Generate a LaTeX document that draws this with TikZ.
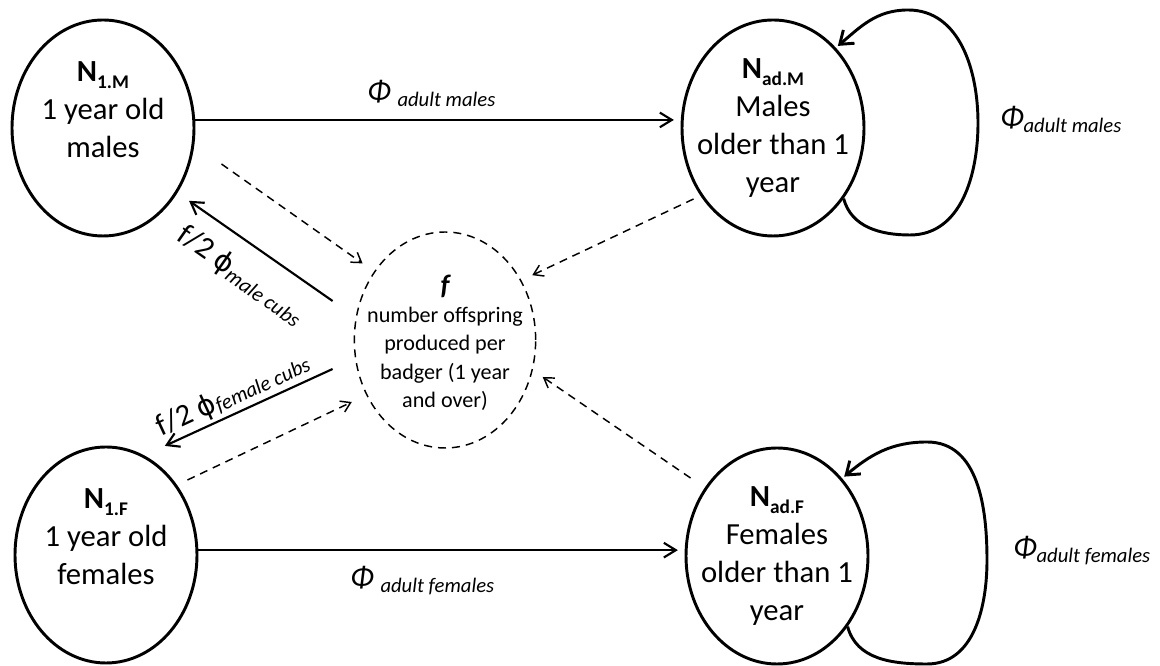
\documentclass[tikz,border=0pt]{standalone}
\usepackage{fontspec}
\setmainfont{Carlito}
\newfontfamily\greekphi{DejaVu Sans}
\usetikzlibrary{arrows.meta,shapes.geometric}

% population label: bold N with a bold lowered index
\newcommand{\Nsub}[1]{\textbf{N\raisebox{-5pt}{\fontsize{14.5}{14.5}\selectfont #1}}}
% transition rate: italic Phi with an italic lowered index
\newcommand{\phisub}[2]{{\itshape Φ}#1\raisebox{-3.5pt}{\fontsize{15.5}{15.5}\selectfont\itshape #2}}
% cub recruitment rate: f/2 phi with an italic lowered index
\newcommand{\cubrate}[2]{f/2 {\greekphi\fontsize{21}{21}\selectfont ϕ}\raisebox{#1}{\fontsize{15.8}{15.8}\selectfont\itshape #2}}

\begin{document}
\begin{tikzpicture}[x=0.75pt,y=0.75pt,
  pop/.style={ellipse, draw, line width=2.2pt, minimum width=136.5pt,
    minimum height=162pt, inner sep=0pt},
  poptext/.style={align=center, inner sep=0pt, font=\fontsize{23}{28.5}\selectfont},
  fpop/.style={ellipse, draw, line width=1.1pt, dash pattern=on 6pt off 4.5pt,
    minimum width=136pt, minimum height=162pt, inner sep=0pt},
  ftext/.style={align=center, inner sep=0pt, font=\fontsize{16.6}{21.2}\selectfont},
  flow/.style={line width=1.6pt, -{Straight Barb[length=9pt,width=11pt]}},
  link/.style={line width=1.1pt, dash pattern=on 6pt off 4.5pt,
    -{Straight Barb[length=7pt,width=9pt]}},
  loopflow/.style={line width=2.2pt, -{Straight Barb[length=9pt,width=13pt]}},
  rate/.style={inner sep=0pt, font=\fontsize{23}{23}\selectfont}
]
\useasboundingbox (0,0) rectangle (1160,666);

% population compartments
\node[pop] (N1M)  at (103,538) {};
\node[pop] (NadM) at (773,538) {};
\node[pop] (N1F)  at (106,111) {};
\node[pop] (NadF) at (777,110) {};
\node[fpop] (f)   at (445,326) {};

\node[poptext] (tN1M)  at ([yshift=13.5pt]N1M.center) {\Nsub{1.M}\\1 year old\\males};
\node[poptext] (tNadM) at (NadM.center) {\Nsub{ad.M}\\Males\\older than 1\\year};
\node[poptext] (tN1F)  at ([yshift=13.5pt]N1F.center) {\Nsub{1.F}\\1 year old\\females};
\node[poptext] (tNadF) at (NadF.center) {\Nsub{ad.F}\\Females\\older than 1\\year};
\node[ftext] (tf) at ([yshift=-2pt]f.center)
  {{\fontsize{21}{21}\selectfont\bfseries\itshape f}\\number offspring\\produced per\\badger (1 year\\and over)};

% survival into the adult classes
\draw[flow, shorten >=5pt] (N1M.5) -- (N1M.5 -| NadM.west);
\draw[flow, shorten >=5pt] (N1F.3) -- (N1F.3 -| NadF.west);

% adult survival loops
\draw[loopflow, shorten >=2pt] (NadM.-45) to[out=-75,in=180] (910,431)
  to[out=0,in=-90] (978,543) to[out=90,in=0] (908,656) to[out=180,in=40] (NadM.52);
\draw[loopflow, shorten >=2pt] (NadF.-45) to[out=-75,in=180] (927,2)
  to[out=0,in=-90] (987,106) to[out=90,in=0] (927,224) to[out=180,in=40] (NadF.50);

% contributions to fecundity
\draw[link, shorten >=10.5pt] ([shift={(26,-36)}]N1M.east) -- (f.136.4);
\draw[link, shorten >=12pt] ([shift={(-11,75)}]N1F.east) -- (f.215.6);
\draw[link, shorten >=9pt] ([shift={(13,-71)}]NadM.west) -- (f.38.9);
\draw[link, shorten >=9pt] ([shift={(6,78)}]NadF.west) -- (f.-19.3);

% recruitment of cubs
\draw[flow, shorten >=10.5pt] ([shift={(-21,39)}]f.west) -- (N1M.-41);
\draw[flow, shorten >=17pt] ([shift={(-21,-29)}]f.west) -- (N1F.69);

% rate labels
\node[rate, anchor=base west] (rMtop) at (367,564) {\phisub{\ }{adult males}};
\node[rate, anchor=base west] (rFbot) at (350,78) {\phisub{\ }{adult females}};
\node[rate, anchor=base west] (rMloop) at (1000,538) {\phisub{}{adult males}};
\node[rate, anchor=base west] (rFloop) at (1013,108) {\phisub{}{adult females}};
\node[rate, rotate=-34.9] (cubM) at (241,391) {\cubrate{-4pt}{male cubs}};
\node[rate, rotate=24.9] (cubF) at (233,271) {\cubrate{-2pt}{female cubs}};
\end{tikzpicture}
\end{document}
